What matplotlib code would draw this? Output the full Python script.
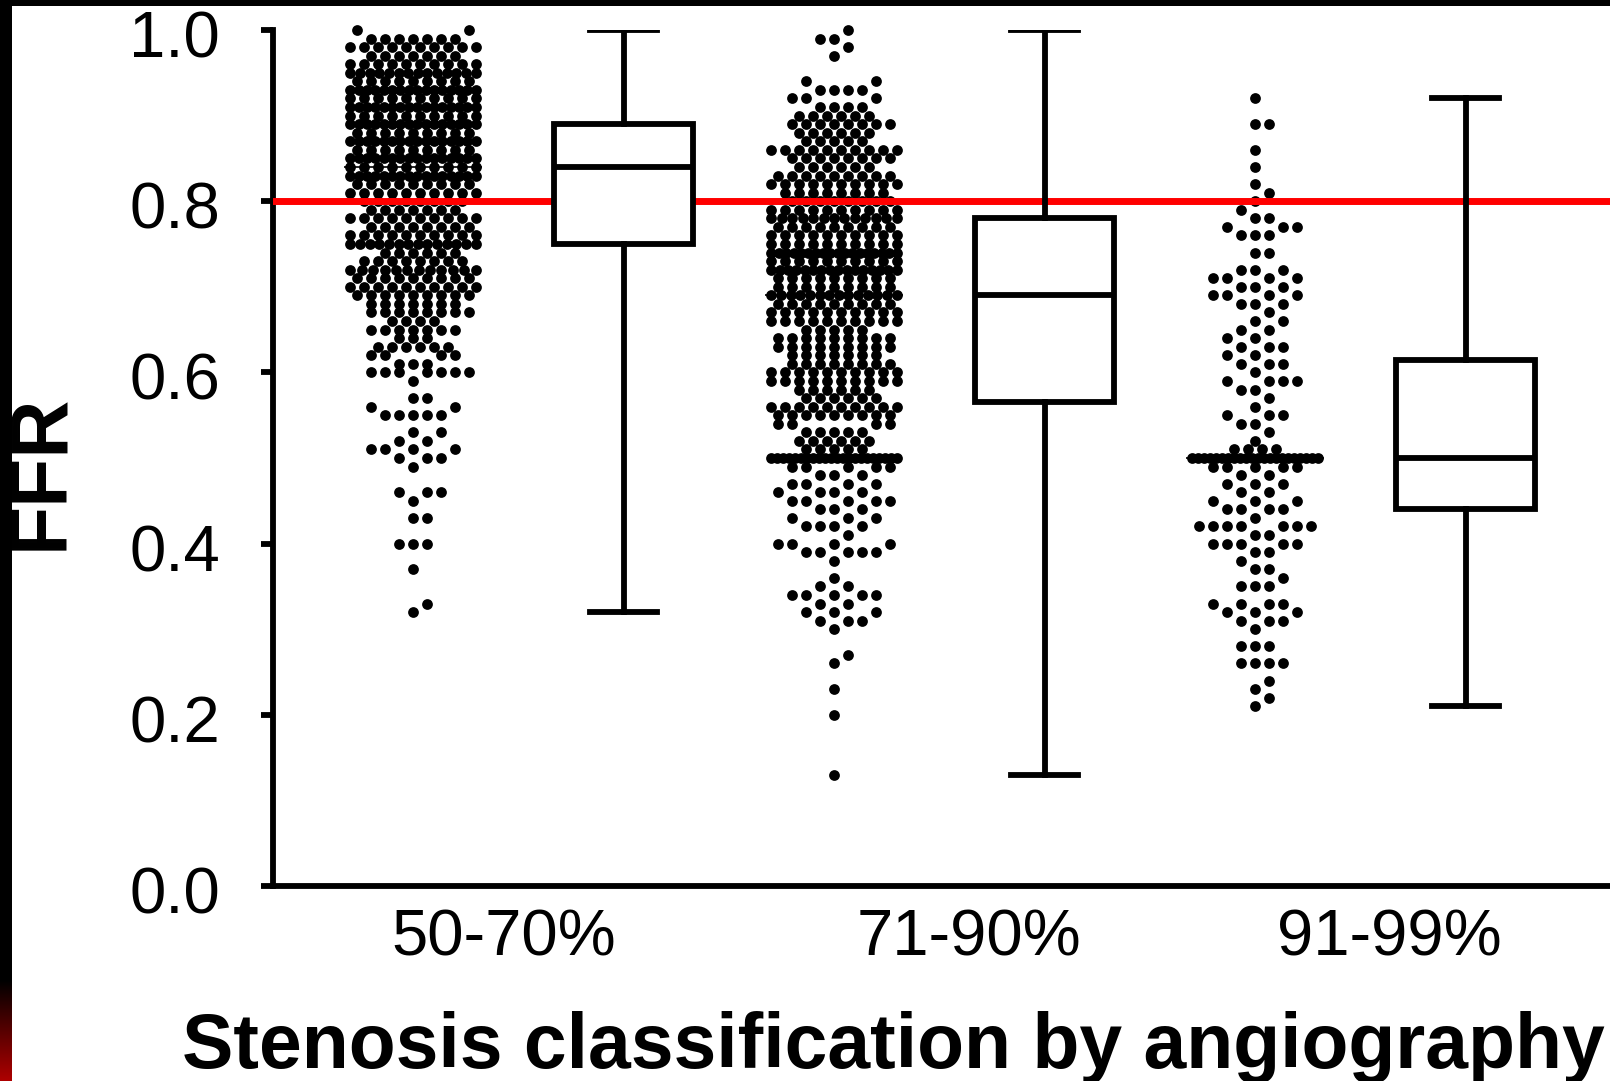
import matplotlib
matplotlib.use('Agg')
import matplotlib.pyplot as plt
from matplotlib.transforms import ScaledTranslation
import numpy as np

plt.rcParams['font.family'] = ['Liberation Sans', 'DejaVu Sans']

CATEGORIES = ['50-70%', '71-90%', '91-99%']

# FFR value of each row of dots and how many dots sit on that row
FFR_1 = [.32, .33, .37, .40, .43, .45, .46, .49, .50, .51, .52, .53, .55, .56, .57, .59, .60, .61, .62, .63,
         .64, .65, .66, .67, .68, .69, .70, .71, .72, .73, .74, .75, .76, .77, .78, .79, .80, .81, .82, .83,
         .84, .85, .86, .87, .88, .89, .90, .91, .92, .93, .94, .95, .96, .97, .98, .99, 1.0]
COUNT_1 = [1, 1, 1, 3, 2, 1, 3, 1, 3, 4, 2, 2, 5, 2, 2, 1, 7, 3, 4, 6,
           3, 7, 4, 8, 7, 9, 10, 9, 12, 8, 6, 14, 10, 8, 10, 7, 8, 10, 9, 16,
           10, 16, 9, 16, 9, 16, 10, 16, 10, 16, 9, 14, 10, 7, 10, 7, 2]

FFR_2 = [.13, .20, .23, .26, .27, .30, .31, .32, .33, .34, .35, .36, .38, .39, .40, .41, .42, .43, .44, .45,
         .46, .47, .48, .49, .50, .51, .52, .53, .54, .55, .56, .57, .58, .59, .60, .61, .62, .63, .64, .65,
         .66, .67, .68, .69, .70, .71, .72, .73, .74, .75, .76, .77, .78, .79, .80, .81, .82, .83, .84, .85,
         .86, .87, .88, .89, .90, .91, .92, .93, .94, .97, .98, .99, 1.0]
COUNT_2 = [1, 1, 1, 1, 1, 1, 3, 3, 2, 5, 2, 1, 1, 5, 4, 1, 4, 3, 3, 5,
           4, 4, 3, 5, 22, 5, 6, 5, 4, 9, 10, 6, 6, 10, 10, 8, 7, 9, 9, 5,
           10, 10, 9, 14, 9, 9, 16, 10, 18, 10, 10, 9, 13, 10, 8, 8, 10, 9, 6, 8,
           10, 5, 6, 8, 6, 4, 3, 4, 2, 1, 1, 2, 1]

FFR_3 = [.21, .22, .23, .24, .26, .28, .30, .31, .32, .33, .35, .36, .37, .38, .39, .40, .41, .42, .43, .44,
         .45, .46, .47, .48, .49, .50, .51, .52, .53, .54, .55, .56, .57, .58, .59, .60, .61, .62, .63, .64,
         .65, .66, .67, .68, .69, .70, .71, .72, .74, .76, .77, .78, .79, .80, .81, .82, .84, .86, .89, .92]
COUNT_3 = [1, 1, 1, 1, 4, 3, 1, 3, 3, 4, 3, 1, 2, 1, 2, 5, 2, 7, 1, 4,
           3, 2, 3, 2, 5, 22, 4, 1, 1, 2, 3, 1, 1, 2, 4, 1, 3, 2, 3, 2,
           2, 2, 1, 3, 4, 3, 4, 3, 2, 3, 3, 2, 1, 1, 1, 1, 1, 1, 2, 1]

# box summary
WHISKER_LOW = [.32, .13, .21]
Q1 = [.75, .565, .44]
MEDIAN = [.84, .69, .50]
Q3 = [.89, .78, .615]
WHISKER_HIGH = [1.0, 1.0, .92]

CUTOFF = 0.8
Y_TICKS = [0.0, 0.2, 0.4, 0.6, 0.8, 1.0]

W, H = 1610, 1081
LEFT, RIGHT, TOP, BOTTOM = 273, 1610, 30, 886
X0_PX, STEP_PX = 413, 210.5  # first swarm centre, distance to the next slot
COL = 13.9 / STEP_PX


def swarm_columns(values, counts):
    # rows go on a 9 column grid, dodging the row below, crowded rows get squeezed
    grid = sorted(range(-4, 5), key=lambda c: (abs(c), -c))
    xs, ys = [], []
    prev, prev_val = [], -1
    for val, n in zip(values, counts):
        below = prev if val - prev_val < 0.011 else []
        free = [c for c in grid if all(abs(c - p) > 0.4 for p in below)]
        if n <= len(free):
            cols = free[:n]
        elif n <= 10:
            cols = list(np.arange(n) - (n - 1) / 2)
        else:
            cols = list(np.linspace(-4.5, 4.5, n))
        xs += cols
        ys += [val] * n
        prev, prev_val = cols, val
    return np.array(xs), np.array(ys)


fig = plt.figure(figsize=(W / 100, H / 100), dpi=100, facecolor='white')
ax = fig.add_axes([LEFT / W, 1 - BOTTOM / H, (RIGHT - LEFT) / W, (BOTTOM - TOP) / H])

swarms = [(FFR_1, COUNT_1), (FFR_2, COUNT_2), (FFR_3, COUNT_3)]
for i, (values, counts) in enumerate(swarms):
    cols, ys = swarm_columns(values, counts)
    ax.scatter(2 * i + cols * COL, ys, s=60, color='black', linewidths=0, zorder=2, clip_on=False)
    ax.hlines(MEDIAN[i], 2 * i - 0.33, 2 * i + 0.33, color='black', lw=1.2, zorder=2)

ax.axhline(CUTOFF, color='#ff0000', lw=5, zorder=3)

stats = []
for i in range(3):
    stats.append(dict(med=MEDIAN[i], q1=Q1[i], q3=Q3[i], whislo=WHISKER_LOW[i], whishi=WHISKER_HIGH[i], fliers=[]))
line = dict(color='black', lw=4.2)
ax.bxp(stats, positions=[1, 3, 5], widths=0.665, capwidths=0.32, patch_artist=True, showfliers=False,
       boxprops=dict(facecolor='white', edgecolor='black', lw=4.2), medianprops=line, whiskerprops=line,
       capprops=line, zorder=4, manage_ticks=False)

ax.set_xlim((LEFT - X0_PX) / STEP_PX, (RIGHT - X0_PX) / STEP_PX)
ax.set_ylim(0, 1)
ax.set_yticks(Y_TICKS)
ax.set_yticklabels(['%.1f' % t for t in Y_TICKS], fontsize=47)
ax.set_xticks([0.43, 2.64, 4.64])
ax.set_xticklabels(CATEGORIES, fontsize=47)
ax.tick_params(axis='y', length=9, width=4.2, pad=29)
ax.tick_params(axis='x', length=0, pad=16)
for side in ['top', 'right']:
    ax.spines[side].set_visible(False)
for side in ['left', 'bottom']:
    ax.spines[side].set_linewidth(4.2)
ax.spines['bottom'].set_zorder(5)

# y labels sit a little under their ticks in the reference
down = ScaledTranslation(0, -4 / 100, fig.dpi_scale_trans)
for label in ax.get_yticklabels():
    label.set_transform(label.get_transform() + down)

fig.text(1421 / W * 0.5 + 183 / W, 1 - 1047 / H, 'Stenosis classification by angiography',
         fontsize=55.4, fontweight='bold', ha='center', va='center')
fig.text(41 / W, 1 - 472 / H, 'FFR', fontsize=58, fontweight='bold', rotation=90, ha='center', va='center')

# black frame of the slide, with the red fade at the bottom left
top_bar = fig.add_axes([0, 1 - 6 / H, 1, 6 / H])
top_bar.set_facecolor('black')
top_bar.axis('off')
top_bar.add_patch(plt.Rectangle((0, 0), 1, 1, color='black'))
side_bar = fig.add_axes([0, 0, 11 / W, 1])
side_bar.axis('off')
fade = np.zeros((H, 1, 3))
fade[980:, 0, 0] = np.linspace(0, 0.68, H - 980)
side_bar.imshow(fade, aspect='auto')

fig.savefig('out.png', dpi=100, facecolor='white')
